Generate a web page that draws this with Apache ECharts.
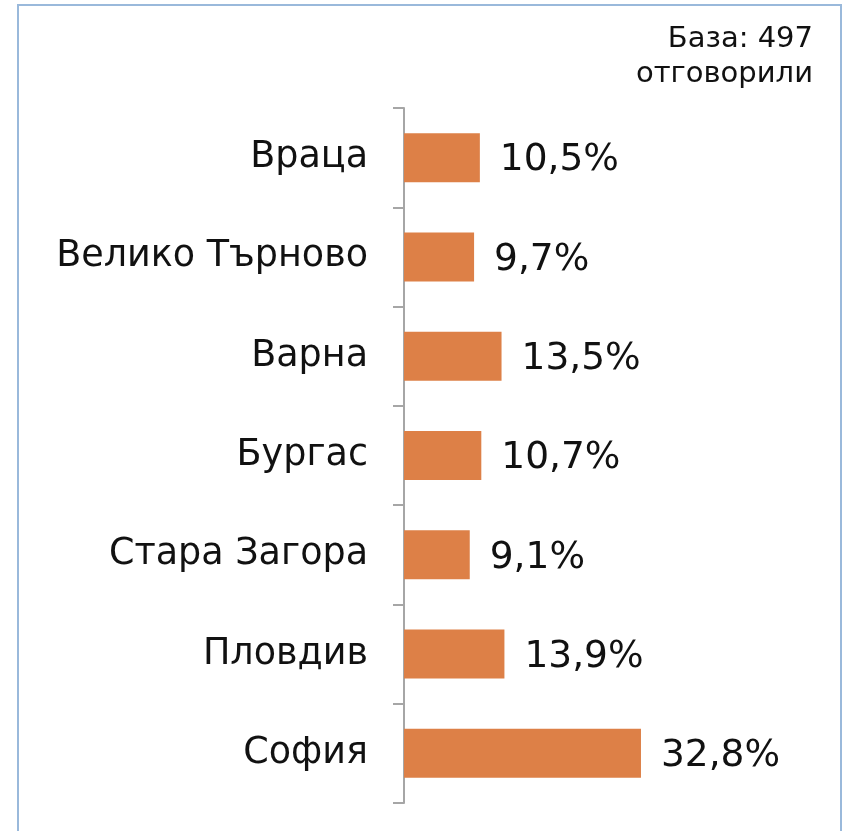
<!DOCTYPE html>
<html>
<head>
<meta charset="utf-8">
<script src="https://cdn.jsdelivr.net/npm/echarts@6/dist/echarts.min.js"></script>
<style>
  html, body { margin: 0; padding: 0; background: #fff; }
  #chart { width: 844px; height: 831px; }
</style>
</head>
<body>
<div id="chart"></div>
<script>
// cities, top to bottom as drawn
const cities = ['Враца', 'Велико Търново', 'Варна', 'Бургас', 'Стара Загора', 'Пловдив', 'София']
const shares = [10.5, 9.7, 13.5, 10.7, 9.1, 13.9, 32.8]
const baseNote = 'База: 497\nотговорили'

const chart = echarts.init(document.getElementById('chart'))

const option = {
  animation: false,
  textStyle: { fontFamily: 'DejaVu Sans' },
  graphic: [
    {
      // light blue frame around the chart
      type: 'rect',
      shape: { x: 18, y: 5, width: 823, height: 900 },
      style: { fill: 'none', stroke: '#9ab9db', lineWidth: 2 },
    },
    {
      type: 'text',
      right: 31,
      top: 22,
      style: {
        text: baseNote,
        font: '29px "DejaVu Sans"',
        fill: '#111',
        textAlign: 'right',
        lineHeight: 35,
      },
    },
  ],
  grid: {
    left: 404,
    top: 108,
    width: 289,
    height: 695,
  },
  xAxis: {
    type: 'value',
    min: 0,
    max: 40,
    show: false,
  },
  yAxis: {
    type: 'category',
    data: cities,
    inverse: true,
    axisLine: { show: true, lineStyle: { color: '#a6a6a6', width: 2 } },
    axisTick: { show: true, length: 11, lineStyle: { color: '#a6a6a6', width: 2 } },
    axisLabel: {
      margin: 36,
      fontSize: 36.5,
      color: '#111',
      fontFamily: 'DejaVu Sans',
      padding: [6, 0, 0, 0],
    },
  },
  series: [
    {
      type: 'bar',
      data: shares,
      barWidth: 49,
      itemStyle: { color: '#dd8047' },
      label: {
        show: true,
        position: 'right',
        distance: 20,
        offset: [0, 3],
        fontSize: 37.5,
        color: '#111',
        fontFamily: 'DejaVu Sans',
        formatter: (p) => p.value.toFixed(1).replace('.', ',') + '%',
      },
    },
  ],
}

chart.setOption(option)
</script>
</body>
</html>
